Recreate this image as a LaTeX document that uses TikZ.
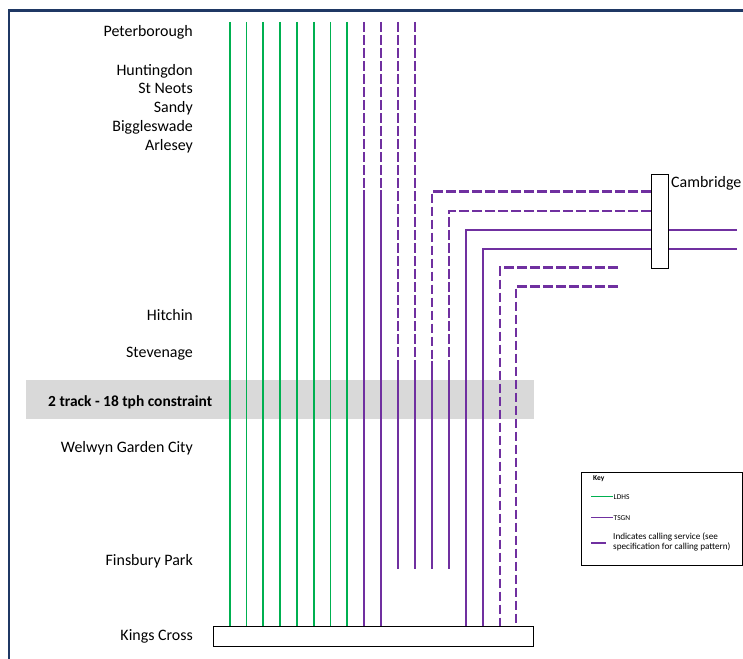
\documentclass[tikz,border=0pt]{standalone}
\usepackage{fontspec}
\setmainfont{Carlito}
\definecolor{lgreen}{HTML}{00B050}
\definecolor{lpurple}{HTML}{7030A0}
\definecolor{navyframe}{HTML}{1F3864}
\definecolor{bandgray}{HTML}{D9D9D9}
\begin{document}
\begin{tikzpicture}[x=1bp,y=-1bp,
  gline/.style={draw=lgreen, line width=1.6bp},
  pline/.style={draw=lpurple, line width=1.7bp},
  pdash/.style={draw=lpurple, line width=2.4bp, dash pattern=on 9.7bp off 3.3bp},
  stn/.style={anchor=base east, inner sep=0pt, font=\fontsize{16}{18}\selectfont},
  keytext/.style={anchor=west, inner sep=0pt, font=\fontsize{7.5}{9.5}\selectfont, align=left},
  boxstyle/.style={draw=black, fill=white, line width=1.2bp, inner sep=0pt}]
\useasboundingbox (0,0) rectangle (743,659);

% frame
\draw[navyframe, line width=2.2bp] (8.8,659) -- (8.8,10.6) -- (743,10.6);

% constraint band
\node[fill=bandgray, minimum width=508bp, minimum height=39bp, inner sep=0pt, anchor=north west] (band) at (26,380) {};
\node[anchor=base west, inner sep=0pt, font=\bfseries\fontsize{15.5}{17}\selectfont] (bandtext) at (48,406) {2 track - 18 tph constraint};

% station labels
\node[stn] (pbo) at (193,37) {Peterborough};
\node[stn] (hun) at (193,75.3) {Huntingdon};
\node[stn] (snt) at (193,94) {St Neots};
\node[stn] (sdy) at (193,112.8) {Sandy};
\node[stn] (bgw) at (193,131.6) {Biggleswade};
\node[stn] (arl) at (193,150.2) {Arlesey};
\node[stn] (hit) at (193,320.5) {Hitchin};
\node[stn] (svg) at (193,357.5) {Stevenage};
\node[stn] (wgc) at (193,452.5) {Welwyn Garden City};
\node[stn] (fpk) at (193,565.5) {Finsbury Park};
\node[stn] (kgx) at (193,640.5) {Kings Cross};

% green fast lines
\foreach \x in {230,246.5,263,280,297,314,330.5,347}
  \draw[gline] (\x,22) -- (\x,626);

% purple: dashed then solid to Kings Cross
\foreach \x in {364,381}{
  \draw[pdash] (\x,22) -- (\x,190);
  \draw[pline] (\x,190) -- (\x,626);
}
% purple dashed to Stevenage then solid to Finsbury Park
\foreach \x in {398,415}{
  \draw[pdash] (\x,22) -- (\x,361);
  \draw[pline] (\x,361) -- (\x,569);
}
% Cambridge branches
\draw[pdash] (651,191.5) -- (432,191.5) -- (432,361);
\draw[pline] (432,361) -- (432,569);
\draw[pdash] (651,211) -- (449,211) -- (449,361);
\draw[pline] (449,361) -- (449,569);
\draw[pline] (737,230) -- (466,230) -- (466,626);
\draw[pline] (737,249) -- (483,249) -- (483,626);
\draw[pdash] (618,267.5) -- (500,267.5) -- (500,626);
\draw[pdash] (618,286.5) -- (516,286.5) -- (516,626);

% Cambridge box and label
\node[boxstyle, minimum width=17bp, minimum height=94bp, anchor=north west] (cam) at (651,173.5) {};
\node[anchor=base west, inner sep=0pt, font=\fontsize{16}{18}\selectfont] (camlbl) at (671,187) {Cambridge};

% Kings Cross box
\node[draw=black, fill=white, line width=1bp, inner sep=0pt, minimum width=320bp, minimum height=20bp, anchor=north west] (kx) at (213,625.5) {};

% key
\node[draw=black, line width=1.4bp, inner sep=0pt, minimum width=161bp, minimum height=93bp, anchor=north west] (key) at (581,472) {};
\node[anchor=west, inner sep=0pt, font=\bfseries\fontsize{7.5}{9}\selectfont] (keyhead) at (593,479) {Key};
\coordinate (k1a) at (591,496.7);
\coordinate (k1b) at (613,496.7);
\draw[draw=lgreen, line width=1bp] (k1a) -- (k1b);
\node[keytext] (k1t) at (613.5,496.7) {LDHS};
\coordinate (k2a) at (591,517.7);
\coordinate (k2b) at (613,517.7);
\draw[draw=lpurple, line width=1bp] (k2a) -- (k2b);
\node[keytext] (k2t) at (613.5,517.7) {TSGN};
\coordinate (k3a) at (591,542.7);
\coordinate (k3b) at (606,542.7);
\draw[draw=lpurple, line width=2.4bp] (k3a) -- (k3b);
\node[keytext, font=\fontsize{9.2}{10}\selectfont] (k3t) at (613,541.5) {Indicates calling service (see\\specification for calling pattern)};
\end{tikzpicture}
\end{document}
